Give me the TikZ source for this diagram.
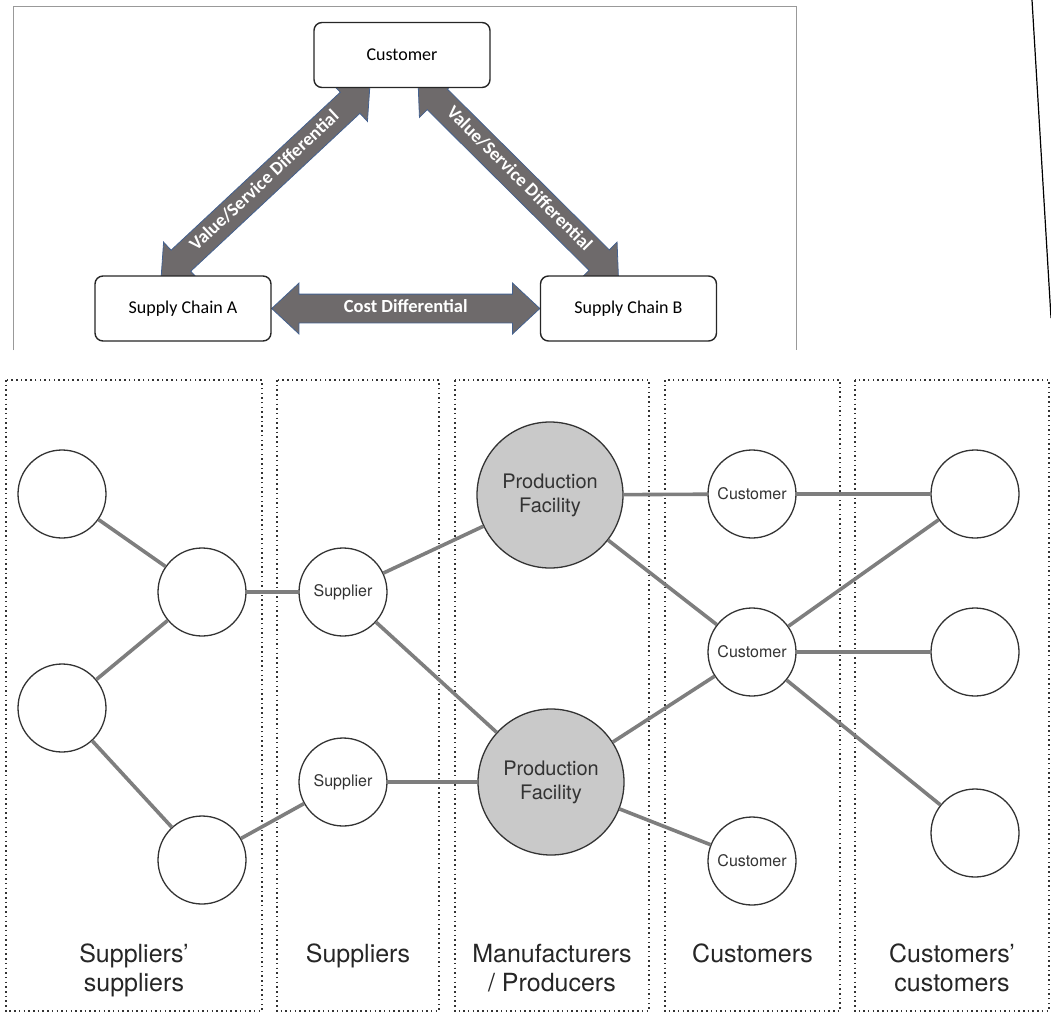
\documentclass[tikz,border=0pt]{standalone}
\usepackage{fontspec}
\setmainfont{TeX Gyre Heros}
\newfontfamily\calfont{Carlito}
\usetikzlibrary{arrows.meta,positioning,calc,shapes.arrows,backgrounds}
\definecolor{arrfill}{HTML}{6E6A6B}
\definecolor{arredge}{HTML}{44618F}
\definecolor{linkc}{HTML}{7E7E7E}
\definecolor{ringc}{HTML}{333333}
\definecolor{facc}{HTML}{C9C9C9}
\tikzset{
  scbox/.style={draw=black!85, line width=1.4pt, rounded corners=8pt, fill=white, minimum width=176pt, minimum height=65pt, font=\calfont\fontsize{18}{20}\selectfont},
  diff/.style={double arrow, fill=arrfill, draw=arredge, line width=0.8pt, text=white, font=\calfont\bfseries\fontsize{18.5}{20}\selectfont, double arrow head extend=11pt, double arrow tip angle=86, inner xsep=0pt, inner ysep=6pt, text height=12pt, text depth=4pt},
  ent/.style={circle, draw=ringc, line width=1.3pt, fill=white, minimum size=88pt, inner sep=0pt, text=ringc, font=\fontsize{16}{19}\selectfont},
  fac/.style={ent, fill=facc, minimum size=146pt, align=center, font=\fontsize{20}{24}\selectfont},
  link/.style={draw=linkc, line width=3.6pt},
  tier/.style={draw=ringc, line width=1.5pt, dash pattern=on 1.5pt off 3.2pt},
  tierlbl/.style={font=\fontsize{25}{29}\selectfont, text=black!85, align=center, inner sep=0pt, anchor=north},
}
\begin{document}
\begin{tikzpicture}[x=1pt,y=1pt]
  \useasboundingbox (0,0) rectangle (1051,-1017);
  % frame of the upper figure
  \draw[black!40, line width=1pt] (13,-350) |- (796,-6) -- (796,-350);
  \draw[line width=1.2pt] (1032,0) -- (1051,-318);
  % differentials
  \node[scbox] (cust) at (402,-55) {Customer};
  \node[scbox] (scA) at (183,-308.5) {Supply Chain A};
  \node[scbox] (scB) at (628.5,-308.5) {Supply Chain B};
  \begin{scope}[on background layer]
    \path let \p1=($(scB.west)-(scA.east)$), \n1={veclen(\x1,\y1)} in
      node[diff, minimum height=\n1] (cost) at ($(scA.east)!0.5!(scB.west)$) {Cost Differential};
    \path let \p1=($(cust.south)+(-32,4)-(scA.north)-(-22,-4)$), \n1={atan2(\y1,\x1)}, \n2={veclen(\x1,\y1)} in
      node[diff, rotate=\n1, minimum height=\n2] (valA) at ($($(scA.north)+(-22,-4)$)!0.5!($(cust.south)+(-32,4)$)$) {Value/Service Differential};
    \path let \p1=($(scB.north)+(-10,-4)-(cust.south)-(16,8)$), \n1={atan2(\y1,\x1)}, \n2={veclen(\x1,\y1)} in
      node[diff, rotate=\n1, minimum height=\n2] (valB) at ($($(cust.south)+(16,8)$)!0.5!($(scB.north)+(-10,-4)$)$) {Value/Service Differential};
  \end{scope}
  % tiers
  \foreach \xa/\xb/\lbl [count=\i] in {6/262/{Suppliers’\\suppliers}, 277/439/Suppliers, 455/649/{Manufacturers\\/ Producers}, 665/840/Customers, 855/1049/{Customers’\\customers}} {
    \draw[tier] (\xa,-380) rectangle (\xb,-1011);
    \node[tierlbl] (t\i) at ({(\xa+\xb)/2},-944) {\lbl};
  }
  % network
  \node[ent] (ss1) at (62,-494) {};
  \node[ent] (ss2) at (202,-592) {};
  \node[ent] (ss3) at (62,-708) {};
  \node[ent] (ss4) at (202,-860) {};
  \node[ent] (sup1) at (343,-592) {Supplier};
  \node[ent] (sup2) at (343,-782) {Supplier};
  \node[fac] (pf1) at (550,-495) {Production\\Facility};
  \node[fac] (pf2) at (551,-782) {Production\\Facility};
  \node[ent] (cu1) at (752,-494) {Customer};
  \node[ent] (cu2) at (752,-652) {Customer};
  \node[ent] (cu3) at (752,-861) {Customer};
  \node[ent] (cc1) at (975,-494) {};
  \node[ent] (cc2) at (975,-652) {};
  \node[ent] (cc3) at (975,-833) {};
  \foreach \a/\b in {ss1/ss2, ss3/ss2, ss3/ss4, ss2/sup1, ss4/sup2, sup1/pf1, sup1/pf2, sup2/pf2,
                     pf1/cu1, cu1/cc1, pf1/cu2, pf2/cu2, pf2/cu3, cu2/cc1, cu2/cc2, cu2/cc3}
    \draw[link] (\a) -- (\b);
\end{tikzpicture}
\end{document}
